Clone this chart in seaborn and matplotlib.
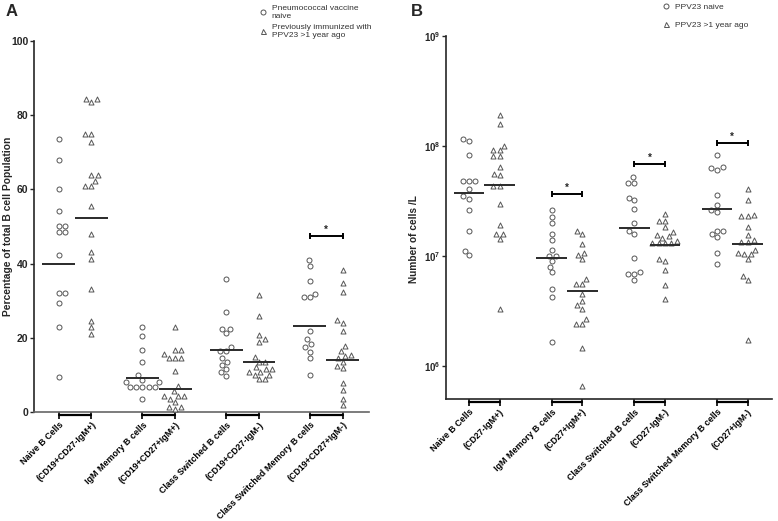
import numpy as np
import pandas as pd
import matplotlib
matplotlib.use("Agg")
import matplotlib.pyplot as plt
import matplotlib.transforms as mtransforms
from matplotlib.lines import Line2D
import seaborn as sns

# ---- data ----
# Panel A: percentage of total B cell population
cells_a = ["Naive B Cells", "(CD19+CD27-IgM+)", "IgM Memory B cells", "(CD19+CD27+IgM+)",
           "Class Switched B cells", "(CD19+CD27-IgM-)", "Class Switched Memory B cells", "(CD19+CD27+IgM-)"]
naive_a = [
    [73.6, 67.9, 60.1, 54.2, 50.2, 50.2, 48.5, 48.5, 42.3, 32.1, 32.1, 29.5, 23.0, 9.4],
    [23.0, 20.6, 16.8, 13.4, 9.9, 8.7, 8.1, 8.1, 6.8, 6.8, 6.8, 6.8, 6.8, 3.4],
    [35.9, 26.9, 22.5, 22.5, 21.2, 17.5, 16.4, 16.4, 14.5, 13.5, 12.7, 11.6, 10.7, 9.8],
    [40.9, 39.3, 35.2, 31.9, 30.9, 30.9, 21.8, 19.6, 18.3, 17.4, 16.3, 14.5, 10.1],
]
ppv_a = [
    [84.5, 83.6, 84.5, 75.0, 75.0, 72.7, 63.8, 63.8, 62.2, 60.9, 60.9, 55.4, 48.1, 43.1, 41.2,
     33.1, 24.6, 23.0, 21.1],
    [22.9, 16.8, 16.8, 15.5, 14.5, 14.5, 14.5, 11.1, 7.0, 5.6, 4.2, 4.2, 4.2, 3.5, 2.7, 1.3, 1.3, 0.8],
    [31.6, 25.9, 20.7, 19.6, 18.9, 14.8, 13.5, 13.5, 12.0, 11.5, 11.5, 10.8, 10.8, 10.0, 10.0, 8.8, 8.8],
    [38.2, 34.9, 32.4, 24.7, 23.9, 21.7, 17.7, 16.4, 15.4, 15.1, 14.5, 13.6, 12.4, 11.9, 7.9, 6.0,
     3.6, 1.9],
]
naive_a_line = [39.8, 9.1, 16.8, 23.1]
ppv_a_line = [52.2, 6.2, 13.6, 13.9]
sig_a = [47.4]          # significance bar height, class switched memory group
sig_a_group = [3]

# Panel B: number of cells /L
cells_b = ["Naive B Cells", "(CD27-IgM+)", "IgM Memory B cells", "(CD27+IgM+)",
           "Class Switched B cells", "(CD27-IgM-)", "Class Switched Memory B cells", "(CD27+IgM-)"]
naive_b = [
    [1.15e8, 1.1e8, 8.2e7, 4.8e7, 4.8e7, 4.8e7, 4.1e7, 3.5e7, 3.3e7, 2.6e7, 1.7e7, 1.12e7, 1.02e7],
    [2.6e7, 2.27e7, 1.98e7, 1.6e7, 1.39e7, 1.13e7, 1.01e7, 1.01e7, 9.0e6, 8.0e6, 7.1e6, 5.0e6,
     4.26e6, 1.67e6],
    [5.2e7, 4.6e7, 4.6e7, 3.4e7, 3.2e7, 2.66e7, 2.0e7, 1.68e7, 1.58e7, 9.6e6, 7.1e6, 6.8e6, 6.8e6, 6.0e6],
    [8.3e7, 6.4e7, 6.3e7, 6.1e7, 3.56e7, 2.93e7, 2.6e7, 2.5e7, 1.69e7, 1.69e7, 1.58e7, 1.48e7,
     1.07e7, 8.4e6],
]
ppv_b = [
    [1.92e8, 1.57e8, 1.01e8, 9.2e7, 9.2e7, 8.1e7, 8.1e7, 6.4e7, 5.6e7, 5.4e7, 4.3e7, 4.3e7, 3.0e7,
     1.9e7, 1.6e7, 1.6e7, 1.44e7, 3.3e6],
    [1.7e7, 1.6e7, 1.29e7, 1.02e7, 1.06e7, 9.3e6, 6.2e6, 5.6e6, 5.6e6, 4.5e6, 3.9e6, 3.6e6, 3.33e6,
     2.65e6, 2.39e6, 2.39e6, 1.46e6, 6.6e5],
    [2.41e7, 2.1e7, 2.1e7, 1.84e7, 1.64e7, 1.55e7, 1.51e7, 1.47e7, 1.37e7, 1.31e7, 1.31e7, 1.31e7,
     1.31e7, 9.4e6, 9.0e6, 7.4e6, 5.4e6, 4.1e6],
    [4.06e7, 3.2e7, 2.3e7, 2.3e7, 2.36e7, 1.85e7, 1.56e7, 1.4e7, 1.35e7, 1.35e7, 1.14e7, 1.04e7,
     1.04e7, 1.06e7, 9.4e6, 6.6e6, 6.0e6, 1.72e6],
]
naive_b_line = [3.76e7, 9.55e6, 1.79e7, 2.66e7]
ppv_b_line = [4.45e7, 4.8e6, 1.26e7, 1.29e7]
sig_b = [3.64e7, 6.8e7, 1.06e8]
sig_b_group = [1, 2, 3]

# ---- style ----
sns.set_theme(style="ticks")
plt.rcParams["font.family"] = ["Liberation Sans", "DejaVu Sans"]
plt.rcParams["mathtext.fontset"] = "custom"
plt.rcParams["mathtext.rm"] = "Liberation Sans"
plt.rcParams["mathtext.bf"] = "Liberation Sans:bold"

EDGE = "#555555"
LINE = "#2a2a2a"


def long_table(groups, gap):
    rows = []
    for g, vals in enumerate(groups):
        for v in vals:
            rows.append({"pos": g * gap, "value": v})
    return pd.DataFrame(rows)


def draw_panel(ax, naive, ppv, naive_line, ppv_line, labels, gap, sig_vals, sig_groups, log=False):
    if log:
        ax.set_yscale("log")
    d_naive = long_table(naive, gap)
    d_ppv = long_table(ppv, gap)
    d_ppv["pos"] = d_ppv["pos"] + 1
    sns.swarmplot(data=d_naive, x="pos", y="value", native_scale=True, ax=ax, marker="o",
                  size=3.6, color="white", edgecolor=EDGE, linewidth=0.7)
    sns.swarmplot(data=d_ppv, x="pos", y="value", native_scale=True, ax=ax, marker="^",
                  size=3.6, color="white", edgecolor=EDGE, linewidth=0.7)

    centers = np.arange(len(naive)) * gap
    ax.hlines(naive_line, centers - 0.5, centers + 0.5, color=LINE, lw=1.4, zorder=5)
    ax.hlines(ppv_line, centers + 0.5, centers + 1.5, color=LINE, lw=1.4, zorder=5)

    ticks = np.ravel(np.column_stack([centers, centers + 1]))
    ax.set_xticks(ticks)
    ax.set_xticklabels(labels, rotation=45, ha="right", rotation_mode="anchor",
                       fontsize=6.4, fontweight="bold")
    ax.tick_params(axis="x", length=5, width=1.2, pad=1, colors="black")
    ax.set_xlim(centers[0] - 0.75, centers[-1] + 1.8)

    # group bracket joining the two ticks below the axis
    trans = mtransforms.blended_transform_factory(ax.transData, ax.transAxes)
    off = mtransforms.ScaledTranslation(0, -3 / 100, ax.figure.dpi_scale_trans)
    for c in centers:
        ax.plot([c, c + 1], [0, 0], color="black", lw=1.6, transform=trans + off, clip_on=False)

    # significance bars
    for v, g in zip(sig_vals, sig_groups):
        x0, x1 = centers[g], centers[g] + 1
        ax.plot([x0, x1], [v, v], color="black", lw=1.4)
        ax.plot([x0, x0], [v, v], marker="|", ms=5, color="black", mew=1.2)
        ax.plot([x1, x1], [v, v], marker="|", ms=5, color="black", mew=1.2)
        ax.annotate("*", xy=((x0 + x1) / 2, v), xytext=(0, 1), textcoords="offset points",
                    ha="center", va="bottom", fontsize=7, fontweight="bold")

    ax.set_xlabel("")
    sns.despine(ax=ax)
    ax.spines["left"].set_linewidth(1.2)
    ax.spines["bottom"].set_linewidth(1.2)
    ax.tick_params(axis="y", length=3, width=1.0, pad=1)
    ax.minorticks_off()


fig = plt.figure(figsize=(7.78, 5.21), dpi=100)
ax_a = fig.add_axes([34 / 778, 1 - 412 / 521, (369 - 34) / 778, (412 - 41) / 521])
ax_b = fig.add_axes([446 / 778, 1 - 399 / 521, (772 - 446) / 778, (399 - 36) / 521])

draw_panel(ax_a, naive_a, ppv_a, naive_a_line, ppv_a_line, cells_a, 2.55, sig_a, sig_a_group)
ax_a.set_ylim(0, 100)
ax_a.set_yticks([0, 20, 40, 60, 80, 100])
ax_a.set_yticklabels(["0", "20", "40", "60", "80", "100"], fontsize=7.5, fontweight="bold")
ax_a.set_ylabel("Percentage of total B cell Population", fontsize=7.4, fontweight="bold")
ax_a.yaxis.set_label_coords(-0.064, 0.5)
ax_a.spines["bottom"].set_color("#666666")

draw_panel(ax_b, naive_b, ppv_b, naive_b_line, ppv_b_line, cells_b, 2.7, sig_b, sig_b_group, log=True)
ax_b.set_ylim(10 ** 5.7, 1e9)
ax_b.set_yticks([1e6, 1e7, 1e8, 1e9])
ax_b.set_yticklabels([r"$\mathbf{10^{%d}}$" % e for e in [6, 7, 8, 9]], fontsize=7)
ax_b.minorticks_off()
ax_b.set_ylabel("Number of cells /L", fontsize=7.3, fontweight="bold")
ax_b.yaxis.set_label_coords(-0.083, 0.44)

# legends
handles_a = [Line2D([], [], marker="o", ls="", mfc="white", mec=EDGE, ms=3.6, mew=0.7),
             Line2D([], [], marker="^", ls="", mfc="white", mec=EDGE, ms=3.6, mew=0.7)]
fig.legend(handles_a, ["Pneumococcal vaccine\nnaive", "Previously immunized with\nPPV23 >1 year ago"],
           loc="upper left", bbox_to_anchor=(251 / 778, 1.005), frameon=False, fontsize=6,
           handletextpad=0.6, labelspacing=0.5, handlelength=1.0, labelcolor="#333333")
fig.legend(handles_a, ["PPV23 naive", "PPV23 >1 year ago"],
           loc="upper left", bbox_to_anchor=(654 / 778, 1.008), frameon=False, fontsize=6,
           handletextpad=0.6, labelspacing=1.15, handlelength=1.0, labelcolor="#333333")

fig.text(6 / 778, 1 - 4 / 521, "A", fontsize=12, fontweight="bold", va="top")
fig.text(411 / 778, 1 - 4 / 521, "B", fontsize=12, fontweight="bold", va="top")

fig.savefig("out.png", dpi=100)
